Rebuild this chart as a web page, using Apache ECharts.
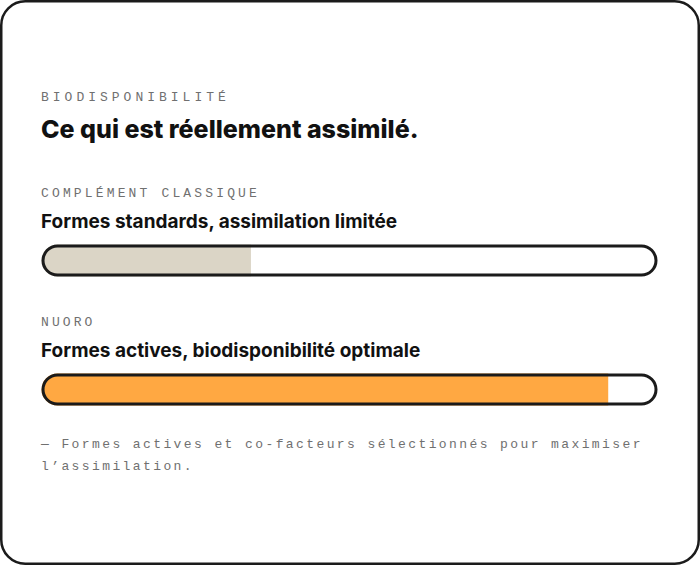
<!DOCTYPE html>
<html>
<head>
<meta charset="utf-8">
<title>Biodisponibilité</title>
<style>
  html, body { margin: 0; padding: 0; background: #fff; }
  #main { width: 700px; height: 565px; }
</style>
</head>
<body>
<div id="main"></div>
<script src="https://cdn.jsdelivr.net/npm/echarts@6/dist/echarts.min.js"></script>
<script>
// données du graphique
var kicker = 'BIODISPONIBILITÉ';
var headline = 'Ce qui est réellement assimilé.';
var categories = ['COMPLÉMENT CLASSIQUE', 'NUORO'];
var subtitles = ['Formes standards, assimilation limitée', 'Formes actives, biodisponibilité optimale'];
var values = [34, 92];
var maxValue = 100;
var noteLines = ['— Formes actives et co-facteurs sélectionnés pour maximiser', 'l’assimilation.'];

;(function (gold) {
var INK = '#1b1b1b';
var GREY = '#707070';
var FILLS = ['#dbd5c6', '#ffa842'];
var MONO = '"Courier New", Courier, "Nimbus Mono PS", FreeMono, "Liberation Mono", monospace';
var SANS = 'Inter, "Noto Sans", sans-serif';

gold.Bio = function () {
  this.tops = [243, 372];     // haut de chaque barre (cadre compris)
  this.spacing = {};
};
gold.Bio.prototype = {
  init: function () {
    var self = this;
    this.spacing[kicker] = 4;
    this.spacing[categories[0]] = 3.15;
    this.spacing[categories[1]] = 3.1;
    noteLines.forEach(function (l) { self.spacing[l] = 2.4; });
    this.createChart(this.buildOption());
  },
  buildOption: function () {
    var self = this;
    var grids = [], xAxes = [], yAxes = [], series = [];
    var texts = [];

    // cadre de la carte
    texts.push({
      type: 'rect', z: 0, silent: true,
      shape: { x: 1.25, y: 1.25, width: 697.5, height: 562.5, r: 24 },
      style: { fill: '#fff', stroke: INK, lineWidth: 2.5 }
    });
    texts.push(this.text(kicker, 97.5, 13, 'normal', MONO, GREY));
    texts.push(this.text(headline, 129, 25, 800, SANS, '#111'));

    categories.forEach(function (cat, i) {
      var top = self.tops[i];
      grids.push({ left: 41.5, right: 42.5, top: top, height: 35 });
      xAxes.push({ type: 'value', gridIndex: i, min: 0, max: maxValue, show: false });
      yAxes.push({ type: 'category', gridIndex: i, data: [cat], show: false });
      series.push({
        type: 'bar', name: cat, xAxisIndex: i, yAxisIndex: i,
        data: [values[i]], barWidth: 32, barGap: '-100%', z: 2, silent: true,
        itemStyle: { color: FILLS[i], borderRadius: [16, 0, 0, 16] }
      });
      series.push({
        type: 'bar', name: cat + ' (max)', xAxisIndex: i, yAxisIndex: i,
        data: [maxValue], barWidth: 32, barGap: '-100%', z: 3, silent: true,
        itemStyle: { color: 'rgba(0,0,0,0)', borderColor: INK, borderWidth: 3, borderRadius: 16 }
      });
      texts.push(self.text(cat, top - 50, 13, 'normal', MONO, GREY));
      texts.push(self.text(subtitles[i], top - 22, 19, 700, SANS, '#111'));
    });

    // note en bas
    noteLines.forEach(function (line, k) {
      texts.push(self.text(line, 444.5 + k * 22, 13, 'normal', MONO, GREY));
    });

    return {
      animation: false,
      backgroundColor: '#fff',
      grid: grids,
      xAxis: xAxes,
      yAxis: yAxes,
      series: series,
      graphic: { elements: texts }
    };
  },
  text: function (str, y, size, weight, family, color) {
    return {
      type: 'text', x: 41, y: y, z: 10, silent: true,
      style: {
        text: str, fontSize: size, fontWeight: weight, fontFamily: family,
        fill: color, align: 'left', verticalAlign: 'middle'
      }
    };
  },
  createChart: function (option) {
    var self = this;
    var chart = echarts.init(document.getElementById('main'), null, { renderer: 'svg' });
    // espacement des lettres (les textes restent entiers)
    var spaceOut = function () {
      document.querySelectorAll('#main text').forEach(function (node) {
        var s = self.spacing[node.textContent];
        if (s != null) node.setAttribute('letter-spacing', s);
      });
    };
    chart.on('finished', spaceOut);
    chart.setOption(option);
    setTimeout(spaceOut, 50);
  }
};
new gold.Bio().init();
})(window);
</script>
</body>
</html>
